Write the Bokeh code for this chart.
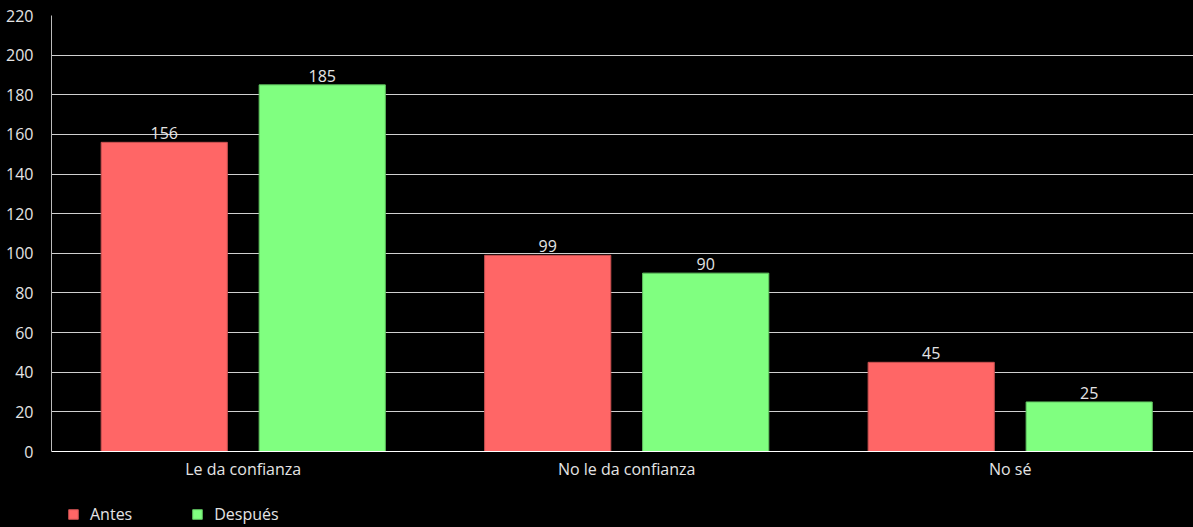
from bokeh.plotting import figure
from bokeh.layouts import column
from bokeh.models import (ColumnDataSource, Legend, LegendItem, FixedTicker,
                          LabelSet, Range1d, GlobalInlineStyleSheet)
from bokeh.core.properties import value
from bokeh.embed import file_html
from bokeh.resources import INLINE

categories = ["Le da confianza", "No le da confianza", "No sé"]
antes = [156, 99, 45]
despues = [185, 90, 25]
series_names = ["Antes", "Después"]
colors = ["#ff6666", "#80ff80"]
edge_colors = ["#c84f4f", "#5fc35f"]
y_ticks = list(range(0, 221, 20))

FONT = "Open Sans"
TXT = "#e4e4e4"
FS = "16px"

centers = [i + 0.5 for i in range(len(categories))]
offset = 0.206
bar_w = 0.329

p = figure(width=1193, height=482, output_backend="svg", toolbar_location=None,
           x_range=Range1d(0, 2.978), y_range=Range1d(0, 220),
           background_fill_color="black", border_fill_color="black",
           min_border_left=51, min_border_right=0, min_border_top=15,
           min_border_bottom=30)
p.outline_line_color = None
p.stylesheets = [GlobalInlineStyleSheet(css="html, body { background: #000000; }")]

sources = []
for k, (vals, name) in enumerate(zip([antes, despues], series_names)):
    xs = [c + (offset if k else -offset) for c in centers]
    src = ColumnDataSource(dict(x=xs, top=vals, label=[str(v) for v in vals]))
    sources.append(src)
    p.vbar(x="x", top="top", width=bar_w, source=src, fill_color=colors[k],
           line_color=edge_colors[k], line_width=1)
    p.add_layout(LabelSet(x="x", y="top", text="label", source=src, y_offset=3,
                          text_align="center", text_baseline="bottom",
                          text_font=value(FONT), text_font_size=value(FS),
                          text_color=TXT))

# axes
p.xaxis.ticker = FixedTicker(ticks=centers)
p.xaxis.major_label_overrides = {c: lab for c, lab in zip(centers, categories)}
p.yaxis.ticker = FixedTicker(ticks=y_ticks)
for ax in (p.xaxis[0], p.yaxis[0]):
    ax.major_tick_line_color = None
    ax.minor_tick_line_color = None
    ax.major_label_text_font = FONT
    ax.major_label_text_font_size = FS
    ax.major_label_text_color = TXT
p.xaxis.axis_line_color = "#ffffff"
p.yaxis.axis_line_color = "#bbbbbb"
p.xaxis.major_label_standoff = 0
p.yaxis.major_label_standoff = 12
p.xgrid.grid_line_color = None
p.ygrid.grid_line_color = "#d0d0d0"

# legend strip below the chart (its frame is aligned with the chart's frame)
p2 = figure(width=1193, height=45, output_backend="svg", toolbar_location=None,
            x_range=Range1d(0, 2.978), y_range=Range1d(0, 220),
            x_axis_location=None, y_axis_location=None,
            background_fill_color="black", border_fill_color="black",
            min_border=0)
p2.outline_line_color = None
p2.grid.visible = False
items = []
for k, name in enumerate(series_names):
    r = p2.vbar(x="x", top="top", width=bar_w, source=sources[k],
                fill_color=colors[k], line_color=edge_colors[k], visible=False)
    items.append(LegendItem(label=name, renderers=[r]))
legend = Legend(items=items, orientation="horizontal", location=(16, 2),
                background_fill_alpha=0, border_line_alpha=0,
                inactive_fill_alpha=0,
                label_text_font=FONT, label_text_font_size=FS,
                label_text_color=TXT, glyph_width=12, glyph_height=12,
                label_standoff=11, spacing=59, padding=0, margin=0)
p2.add_layout(legend, "center")

layout = column(p, p2, spacing=0)
open("out.html", "w").write(file_html(layout, INLINE))
